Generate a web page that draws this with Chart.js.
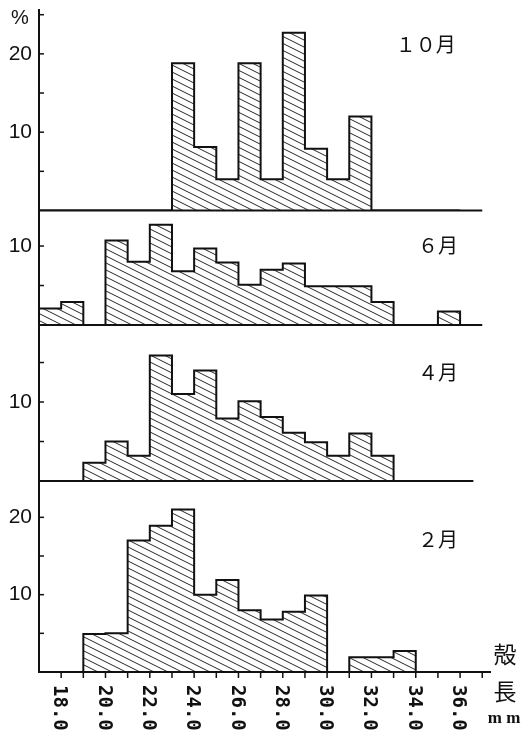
<!DOCTYPE html>
<html>
<head>
<meta charset="utf-8">
<script src="https://cdn.jsdelivr.net/npm/chart.js@4.4.1/dist/chart.umd.min.js"></script>
<style>
  html, body { margin: 0; padding: 0; background: #fff; }
  #chart { display: block; }
</style>
</head>
<body>
<canvas id="chart" width="528" height="736"></canvas>
<script>
// 殻長階級 (mm) - 各階級の左端, 最後の値は右端
const binEdges = [17, 18, 19, 20, 21, 22, 23, 24, 25, 26, 27, 28, 29, 30, 31, 32, 33, 34, 35, 36];

// 出現率 (%) 17-18 ... 35-36 mm
const octValues = [0, 0, 0, 0, 0, 0, 18.8, 8.1, 4.0, 18.8, 4.0, 22.7, 7.9, 4.0, 12.0, 0, 0, 0, 0];
const junValues = [2.1, 2.9, 0, 10.7, 8.0, 12.7, 6.8, 9.7, 7.9, 5.1, 7.0, 7.8, 4.9, 4.9, 4.9, 2.9, 0, 0, 1.7];
const aprValues = [0, 0, 2.3, 5.0, 3.2, 15.9, 11.0, 14.0, 7.9, 10.1, 8.1, 6.1, 4.9, 3.2, 6.0, 3.2, 0, 0, 0];
const febValues = [0, 0, 4.9, 5.0, 17.0, 18.9, 21.0, 10.0, 11.9, 8.0, 6.8, 7.8, 9.9, 0, 1.9, 1.9, 2.7, 0, 0];

const monthLabels = ['１０月', '６月', '４月', '２月'];
const xTickValues = [18, 20, 22, 24, 26, 28, 30, 32, 34, 36];
const xTickLabels = ['18.0', '20.0', '22.0', '24.0', '26.0', '28.0', '30.0', '32.0', '34.0', '36.0'];

// パネルごとの縦軸 (上から 10月, 6月, 4月, 2月)
const panelIds = ['yOct', 'yJun', 'yApr', 'yFeb'];
const panelMax = [25.6, 14.5, 19.75, 24.7];
const panelWeight = [200.5, 114.5, 156, 191];
const monthLabelPos = [[33.1, 21.2], [34.1, 10.1], [34.1, 13.7], [34.1, 17.1]];

const INK = '#111';

// 斜線のハッチング
function makeHatch() {
    const c = document.createElement('canvas');
    c.width = 14;
    c.height = 7;
    const g = c.getContext('2d');
    g.strokeStyle = 'rgba(0,0,0,0.85)';
    g.lineWidth = 1;
    g.beginPath();
    for (let k = -1; k <= 1; k++) {
        g.moveTo(-2, k * 7 - 1);
        g.lineTo(16, k * 7 + 8);
    }
    g.stroke();
    return g.createPattern(c, 'repeat');
}

function toSteps(values) {
    return binEdges.map((e, i) => ({ x: e, y: i < values.length ? values[i] : 0 }));
}

function noPadding(scale) {
    scale.paddingTop = 0;
    scale.paddingBottom = 0;
    scale.paddingLeft = 0;
    scale.paddingRight = 0;
}

const hatch = makeHatch();
const seriesValues = [octValues, junValues, aprValues, febValues];

const datasets = seriesValues.map((vals, i) => ({
    label: monthLabels[i],
    data: toSteps(vals),
    yAxisID: panelIds[i],
    stepped: true,
    fill: 'origin',
    backgroundColor: hatch,
    borderColor: INK,
    borderWidth: 2,
    pointRadius: 0,
}));

function yScale(i) {
    return {
        type: 'linear',
        position: 'left',
        stack: 'months',
        stackWeight: panelWeight[i],
        min: 0,
        max: panelMax[i],
        afterFit: (scale) => {
            scale.width = 39;
            noPadding(scale);
        },
        border: { display: true, color: INK, width: 2 },
        grid: { display: false, drawTicks: false },
        ticks: {
            stepSize: 5,
            includeBounds: false,
            autoSkip: false,
            padding: 7,
            color: INK,
            font: { family: 'Liberation Sans', size: 21 },
            callback: (v) => (v === 10 || v === 20) ? String(v) : '',
        },
    };
}

// 補助線, 目盛, 文字
const decorPlugin = {
    id: 'decor',
    afterDraw(chart) {
        const ctx = chart.ctx;
        const area = chart.chartArea;
        const xs = chart.scales.x;
        ctx.save();
        ctx.strokeStyle = INK;
        ctx.fillStyle = INK;

        // パネルの基線
        ctx.lineWidth = 2;
        const baseEnd = [37.0, 37.0, 36.6];
        for (let i = 0; i < 3; i++) {
            const y = chart.scales[panelIds[i]].getPixelForValue(0);
            ctx.beginPath();
            ctx.moveTo(area.left, y);
            ctx.lineTo(xs.getPixelForValue(baseEnd[i]), y);
            ctx.stroke();
        }

        // 縦軸の目盛 (内向き)
        ctx.lineWidth = 1.5;
        panelIds.forEach((id, i) => {
            const s = chart.scales[id];
            for (let v = 5; v < panelMax[i]; v += 5) {
                const y = s.getPixelForValue(v);
                ctx.beginPath();
                ctx.moveTo(area.left, y);
                ctx.lineTo(area.left + 5, y);
                ctx.stroke();
            }
        });

        // 横軸の目盛
        for (let v = 18; v <= 37; v++) {
            const x = xs.getPixelForValue(v);
            ctx.beginPath();
            ctx.moveTo(x, area.bottom);
            ctx.lineTo(x, area.bottom + 6);
            ctx.stroke();
        }

        // 横軸ラベル (縦書き)
        ctx.font = 'bold 19px "DejaVu Sans Mono"';
        ctx.textAlign = 'left';
        ctx.textBaseline = 'middle';
        xTickValues.forEach((v, i) => {
            ctx.save();
            ctx.translate(xs.getPixelForValue(v) - 2, area.bottom + 13);
            ctx.rotate(Math.PI / 2);
            ctx.fillText(xTickLabels[i], 0, 0);
            ctx.restore();
        });

        // 月
        ctx.font = '20px "Noto Sans CJK JP"';
        ctx.textBaseline = 'middle';
        monthLabels.forEach((m, i) => {
            const [mx, my] = monthLabelPos[i];
            ctx.fillText(m, xs.getPixelForValue(mx), chart.scales[panelIds[i]].getPixelForValue(my));
        });

        // 単位
        ctx.font = '20px "Liberation Sans"';
        ctx.fillText('%', 11, 18);

        ctx.font = '23px "Noto Sans CJK JP"';
        ctx.textAlign = 'center';
        ctx.fillText('殻', 505, 654);
        ctx.fillText('長', 505, 691);
        ctx.font = 'bold 17px "Liberation Serif"';
        ctx.fillText('m m', 504, 719);

        ctx.restore();
    }
};

const scales = {
    x: {
        type: 'linear',
        min: 17,
        max: 37.35,
        afterFit: (scale) => {
            scale.height = 0;
            noPadding(scale);
        },
        border: { display: true, color: INK, width: 2 },
        grid: { display: false, drawTicks: false },
        ticks: { display: false },
    },
};
// 下のパネルから順に定義 (後に定義した軸が上に並ぶ)
for (let i = panelIds.length - 1; i >= 0; i--) {
    scales[panelIds[i]] = yScale(i);
}

new Chart(document.getElementById('chart'), {
    type: 'line',
    data: { datasets },
    options: {
        responsive: false,
        animation: false,
        layout: { padding: { top: 10, right: 38, bottom: 64, left: 0 } },
        plugins: {
            legend: { display: false },
            tooltip: { enabled: false },
        },
        scales,
    },
    plugins: [decorPlugin],
});
</script>
</body>
</html>
